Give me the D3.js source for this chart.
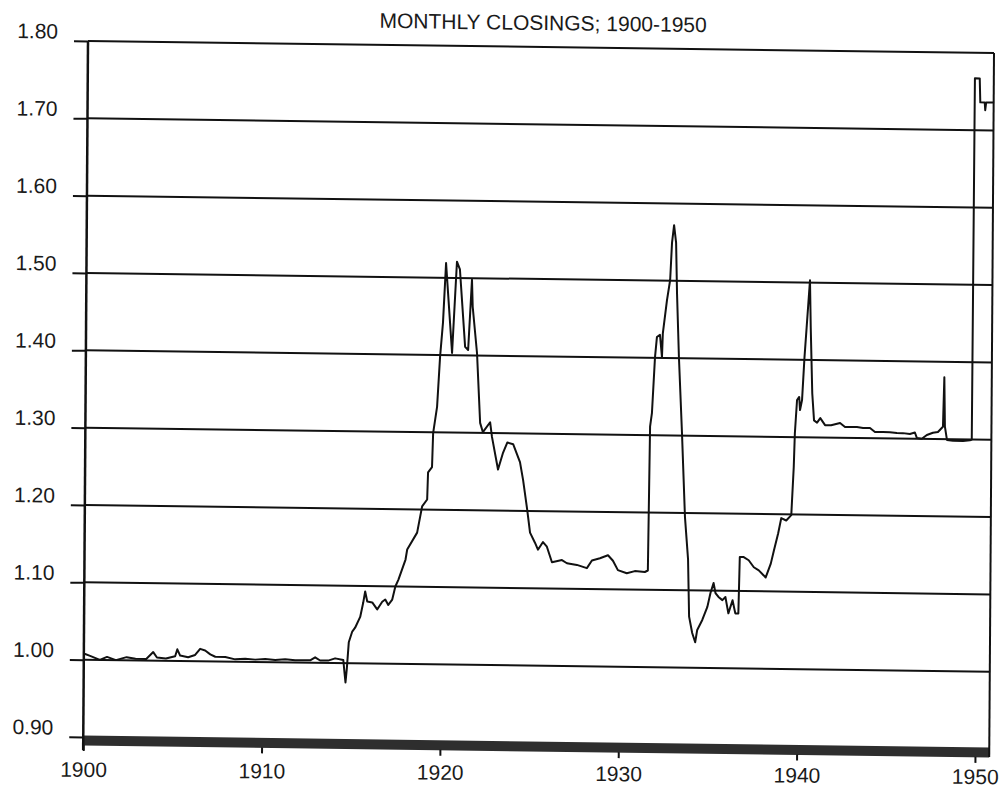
<!DOCTYPE html>
<html>
<head>
<meta charset="utf-8">
<script src="https://cdn.jsdelivr.net/npm/d3@7"></script>
<style>
  * { margin: 0; padding: 0; }
  body { background: #fff; }
  svg { display: block; background: #fff; }
  text { font-family: "Liberation Sans", Arial, Helvetica, sans-serif; fill: #1a1a1a; }
</style>
</head>
<body>
<div id="chart"></div>
<script>
// monthly closings (year, value)
const years = [
  1900.00, 1900.35, 1900.90, 1901.30, 1901.80, 1902.40, 1902.90, 1903.50, 1903.89, 1904.10,
  1904.60, 1905.12, 1905.24, 1905.40, 1905.85, 1906.24, 1906.52, 1906.80, 1907.09, 1907.37,
  1907.93, 1908.49, 1909.05, 1909.61, 1910.17, 1910.73, 1911.29, 1911.85, 1912.69, 1912.97,
  1913.25, 1913.70, 1914.09, 1914.55, 1914.62, 1914.68, 1914.75, 1914.85, 1915.04, 1915.20,
  1915.48, 1915.64, 1915.75, 1915.87, 1916.15, 1916.43, 1916.71, 1916.88, 1917.05, 1917.27,
  1917.44, 1917.61, 1918.00, 1918.09, 1918.64, 1918.91, 1919.19, 1919.23, 1919.45, 1919.50,
  1919.71, 1919.86, 1920.01, 1920.16, 1920.53, 1920.77, 1920.94, 1921.26, 1921.43, 1921.62,
  1921.67, 1921.93, 1922.13, 1922.29, 1922.69, 1922.80, 1923.15, 1923.43, 1923.66, 1923.99,
  1924.38, 1924.56, 1924.80, 1924.97, 1925.25, 1925.42, 1925.70, 1925.92, 1926.21, 1926.77,
  1927.05, 1927.61, 1928.17, 1928.45, 1928.90, 1929.35, 1929.63, 1929.91, 1930.41, 1930.86,
  1931.42, 1931.59, 1931.66, 1931.76, 1931.91, 1932.01, 1932.18, 1932.30, 1932.34, 1932.56,
  1932.73, 1932.82, 1932.93, 1933.05, 1933.12, 1933.25, 1933.45, 1933.65, 1933.84, 1933.92,
  1934.10, 1934.27, 1934.38, 1934.66, 1934.94, 1935.11, 1935.28, 1935.39, 1935.56, 1935.78,
  1935.95, 1936.12, 1936.35, 1936.51, 1936.68, 1936.74, 1936.96, 1937.24, 1937.53, 1937.81,
  1938.20, 1938.48, 1938.65, 1938.88, 1939.05, 1939.33, 1939.61, 1939.73, 1939.78, 1939.89,
  1940.01, 1940.06, 1940.17, 1940.29, 1940.40, 1940.57, 1940.63, 1940.74, 1940.85, 1941.02,
  1941.20, 1941.47, 1941.81, 1942.31, 1942.59, 1943.26, 1943.60, 1943.99, 1944.27, 1944.72,
  1945.11, 1945.50, 1945.84, 1946.23, 1946.51, 1946.62, 1946.90, 1947.18, 1947.52, 1947.80,
  1948.08, 1948.14, 1948.19, 1948.31, 1948.65, 1949.21, 1949.60, 1949.70, 1949.74, 1950.01,
  1950.05, 1950.30, 1950.33, 1950.38, 1950.78
];
const values = [
  1.008, 1.005, 1.000, 1.004, 1.000, 1.004, 1.002, 1.002, 1.011, 1.004,
  1.003, 1.006, 1.015, 1.007, 1.005, 1.008, 1.016, 1.014, 1.009, 1.006,
  1.006, 1.003, 1.004, 1.003, 1.004, 1.003, 1.004, 1.003, 1.003, 1.007,
  1.003, 1.003, 1.006, 1.004, 0.988, 0.975, 0.993, 1.027, 1.041, 1.046,
  1.060, 1.078, 1.093, 1.080, 1.079, 1.070, 1.080, 1.083, 1.076, 1.083,
  1.100, 1.109, 1.135, 1.148, 1.170, 1.204, 1.213, 1.248, 1.255, 1.299,
  1.333, 1.398, 1.442, 1.519, 1.403, 1.521, 1.511, 1.411, 1.407, 1.498,
  1.463, 1.403, 1.313, 1.301, 1.314, 1.295, 1.253, 1.275, 1.288, 1.286,
  1.263, 1.240, 1.202, 1.172, 1.159, 1.150, 1.160, 1.154, 1.134, 1.137,
  1.133, 1.131, 1.127, 1.137, 1.140, 1.144, 1.137, 1.125, 1.121, 1.124,
  1.123, 1.125, 1.311, 1.329, 1.401, 1.427, 1.430, 1.401, 1.432, 1.475,
  1.501, 1.549, 1.572, 1.549, 1.484, 1.402, 1.304, 1.195, 1.140, 1.066,
  1.045, 1.033, 1.049, 1.062, 1.079, 1.097, 1.110, 1.097, 1.092, 1.088,
  1.092, 1.071, 1.088, 1.071, 1.071, 1.144, 1.144, 1.140, 1.131, 1.127,
  1.118, 1.136, 1.153, 1.175, 1.195, 1.192, 1.199, 1.261, 1.305, 1.348,
  1.352, 1.335, 1.348, 1.403, 1.442, 1.503, 1.442, 1.357, 1.322, 1.319,
  1.325, 1.316, 1.316, 1.319, 1.314, 1.314, 1.313, 1.313, 1.308, 1.308,
  1.308, 1.307, 1.307, 1.306, 1.308, 1.301, 1.300, 1.305, 1.308, 1.309,
  1.316, 1.380, 1.316, 1.299, 1.298, 1.298, 1.299, 1.300, 1.767, 1.767,
  1.736, 1.736, 1.726, 1.736, 1.736
];
const yTicks = [0.9, 1.0, 1.1, 1.2, 1.3, 1.4, 1.5, 1.6, 1.7, 1.8];
const xTicks = [1900, 1910, 1920, 1930, 1940, 1950];
const title = "MONTHLY CLOSINGS; 1900-1950";

const W = 1002, H = 790;
const plotL = 88, plotR = 994, plotT = 41, plotB = 737;

const x = d3.scaleLinear().domain([1900, 1950.8]).range([plotL, plotR]);
const y = d3.scaleLinear().domain([0.9, 1.8]).range([plotB, plotT]);

const svg = d3.select("#chart").append("svg")
  .attr("width", W)
  .attr("height", H);

// the scanned page sits a little skewed
const g = svg.append("g")
  .attr("transform", "matrix(1,0.0133,-0.0068,1,0.28,-1.17)");
// year labels tilt a bit less than the plot frame
const gx = svg.append("g")
  .attr("transform", "matrix(1,0.008,-0.0068,1,0.28,-0.7)");

g.append("text")
  .attr("x", 543)
  .attr("y", 24)
  .attr("text-anchor", "middle")
  .style("font-size", "21px")
  .text(title);

// horizontal grid lines
g.selectAll(".grid")
  .data(yTicks.filter(d => d > 0.95))
  .enter()
  .append("line")
  .attr("class", "grid")
  .attr("x1", plotL)
  .attr("x2", plotR)
  .attr("y1", d => y(d))
  .attr("y2", d => y(d))
  .attr("stroke", "#111")
  .attr("stroke-width", 2);

// thick bottom band
g.append("rect")
  .attr("x", plotL)
  .attr("y", y(0.9) - 1.5)
  .attr("width", plotR - plotL)
  .attr("height", 10)
  .attr("fill", "#2e2e2e");

const yAxis = d3.axisLeft(y)
  .tickValues(yTicks)
  .tickFormat(d3.format(".2f"))
  .tickSize(14)
  .tickPadding(16);

const ya = g.append("g")
  .attr("transform", "translate(" + plotL + ",0)")
  .call(yAxis);
ya.select(".domain").remove();
ya.selectAll("line").attr("stroke", "#111").attr("stroke-width", 2);
ya.selectAll("text")
  .attr("dy", "-0.12em")
  .style("font-size", "21px");

// x tick marks under the band
const xTickAxis = d3.axisBottom(x)
  .tickValues(xTicks)
  .tickFormat("")
  .tickSize(6);
const xt = g.append("g")
  .attr("transform", "translate(0," + (y(0.9) + 8) + ")")
  .call(xTickAxis);
xt.select(".domain").remove();
xt.selectAll("line").attr("stroke", "#111").attr("stroke-width", 2);

// x labels
const xLabelAxis = d3.axisBottom(x)
  .tickValues(xTicks)
  .tickFormat(d3.format("d"))
  .tickSize(0)
  .tickPadding(17);
const xa = gx.append("g")
  .attr("transform", "translate(0," + (y(0.9) + 8) + ")")
  .call(xLabelAxis);
xa.select(".domain").remove();
xa.selectAll("text").style("font-size", "21px");

// frame
g.append("line")
  .attr("x1", plotL).attr("x2", plotL)
  .attr("y1", plotT).attr("y2", y(0.9) + 13)
  .attr("stroke", "#111").attr("stroke-width", 2.5);
g.append("line")
  .attr("x1", plotR).attr("x2", plotR)
  .attr("y1", plotT).attr("y2", y(0.9) + 8)
  .attr("stroke", "#111").attr("stroke-width", 2);

const pts = years.map((d, i) => [d, values[i]]);
const line = d3.line()
  .x(d => x(d[0]))
  .y(d => y(d[1]));

g.append("path")
  .datum(pts)
  .attr("d", line)
  .attr("fill", "none")
  .attr("stroke", "#111")
  .attr("stroke-width", 2)
  .attr("stroke-linejoin", "round");
</script>
</body>
</html>
